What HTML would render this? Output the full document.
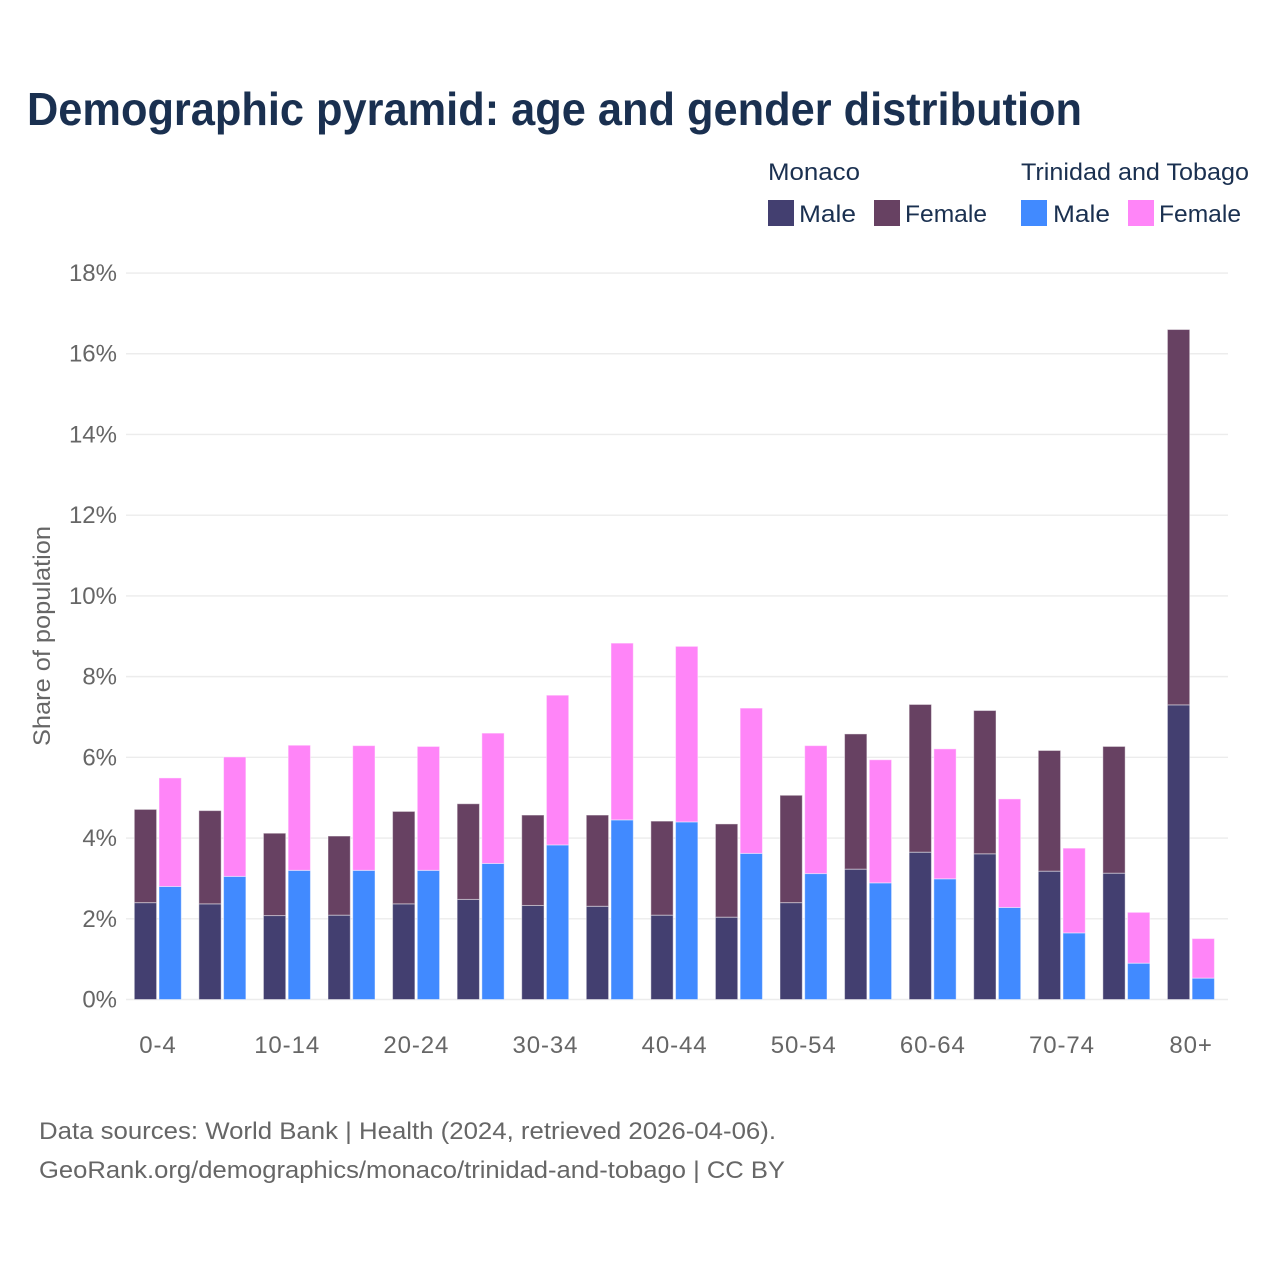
<!DOCTYPE html>
<html lang="en">
<head>
<meta charset="utf-8">
<title>Demographic pyramid: age and gender distribution</title>
<style>
html,body{margin:0;padding:0;background:#fff;}
svg{display:block;font-family:"Liberation Sans",sans-serif;}
.legend-text{font-size:24px;fill:#1a3050;}
.tick{font-size:24px;fill:#666;}
.xtick{letter-spacing:0.9px;}
.foot{font-size:24px;fill:#666;}
</style>
</head>
<body>
<svg id="chart" xmlns="http://www.w3.org/2000/svg" width="1280" height="1280" viewBox="0 0 1280 1280">
  <rect x="0" y="0" width="1280" height="1280" fill="#fff"/>
  <text x="27" y="125" font-size="46" font-weight="700" fill="#1a3050" textLength="1055" lengthAdjust="spacingAndGlyphs">Demographic pyramid: age and gender distribution</text>

  <g>
    <text class="legend-text" x="768" y="180" textLength="92" lengthAdjust="spacingAndGlyphs">Monaco</text>
    <text class="legend-text" x="1021" y="180" textLength="228" lengthAdjust="spacingAndGlyphs">Trinidad and Tobago</text>
    <rect x="768" y="200" width="26" height="26" fill="#433f70"/>
    <text class="legend-text" x="799" y="222" textLength="57" lengthAdjust="spacingAndGlyphs">Male</text>
    <rect x="874" y="200" width="26" height="26" fill="#674162"/>
    <text class="legend-text" x="905" y="222" textLength="82" lengthAdjust="spacingAndGlyphs">Female</text>
    <rect x="1021" y="200" width="26" height="26" fill="#418aff"/>
    <text class="legend-text" x="1053" y="222" textLength="57" lengthAdjust="spacingAndGlyphs">Male</text>
    <rect x="1128" y="200" width="26" height="26" fill="#ff85f8"/>
    <text class="legend-text" x="1159" y="222" textLength="82" lengthAdjust="spacingAndGlyphs">Female</text>
  </g>

  <g id="grid"></g>
  <g id="bars"></g>
  <g id="yticks"></g>
  <g id="xticks"></g>

  <text class="tick" transform="translate(50,746) rotate(-90)" x="0" y="0" textLength="220" lengthAdjust="spacingAndGlyphs">Share of population</text>

  <text class="foot" x="39" y="1139" textLength="737" lengthAdjust="spacingAndGlyphs">Data sources: World Bank | Health (2024, retrieved 2026-04-06).</text>
  <text class="foot" x="39" y="1178" textLength="746" lengthAdjust="spacingAndGlyphs">GeoRank.org/demographics/monaco/trinidad-and-tobago | CC BY</text>
</svg>
<script>
const categories = ["0-4","5-9","10-14","15-19","20-24","25-29","30-34","35-39","40-44","45-49","50-54","55-59","60-64","65-69","70-74","75-79","80+"];
const monacoMale = [2.40,2.37,2.08,2.09,2.37,2.48,2.33,2.31,2.09,2.04,2.40,3.23,3.65,3.61,3.18,3.13,7.30];
const monacoFemale = [2.31,2.31,2.04,1.96,2.29,2.37,2.24,2.26,2.33,2.31,2.66,3.35,3.66,3.55,2.99,3.14,9.30];
const ttMale = [2.80,3.05,3.20,3.20,3.20,3.37,3.83,4.45,4.40,3.62,3.12,2.89,2.99,2.28,1.65,0.90,0.53];
const ttFemale = [2.69,2.96,3.10,3.09,3.07,3.23,3.71,4.38,4.35,3.60,3.17,3.05,3.22,2.69,2.10,1.26,0.98];
const yTickValues = [0,2,4,6,8,10,12,14,16,18];
const xTickLabels = ["0-4","10-14","20-24","30-34","40-44","50-54","60-64","70-74","80+"];

const NS = "http://www.w3.org/2000/svg";
function yScale(v){ return 999.5 - v * 40.36; }
function groupX(i){ return 125.9 + i * 64.57; }
function groupCenter(label){ return groupX(categories.indexOf(label)) + 32.1; }

const grid = document.getElementById("grid");
const yticks = document.getElementById("yticks");
yTickValues.forEach(function(v){
  const line = document.createElementNS(NS,"line");
  
  
  line.setAttribute("x1",126);
  line.setAttribute("x2",1228);
  line.setAttribute("y1",yScale(v));
  line.setAttribute("y2",yScale(v));
  line.setAttribute("stroke","#ececec");
  line.setAttribute("stroke-width","1.4");
  grid.appendChild(line);
  const t = document.createElementNS(NS,"text");
  
  
  t.setAttribute("class","tick");
  t.setAttribute("x",117);
  t.setAttribute("y",yScale(v)+8);
  t.setAttribute("text-anchor","end");
  t.textContent = v + "%";
  yticks.appendChild(t);
});

const xticks = document.getElementById("xticks");
xTickLabels.forEach(function(label){
  const t = document.createElementNS(NS,"text");
  
  
  t.setAttribute("class","tick xtick");
  t.setAttribute("x",groupCenter(label));
  t.setAttribute("y",1053);
  t.setAttribute("text-anchor","middle");
  t.textContent = label;
  xticks.appendChild(t);
});

const bars = document.getElementById("bars");
function addBar(x, v0, v1, fill){
  const r = document.createElementNS(NS,"rect");
  
  
  r.setAttribute("x",x);
  r.setAttribute("y",yScale(v1));
  r.setAttribute("width",22.3);
  r.setAttribute("height",yScale(v0)-yScale(v1));
  r.setAttribute("fill",fill);
  r.setAttribute("stroke","#fff");
  r.setAttribute("stroke-opacity","0.45");
  r.setAttribute("stroke-width","1");
  bars.appendChild(r);
}
categories.forEach(function(c,i){
  const x = groupX(i);
  addBar(x+8.4, 0, monacoMale[i], "#433f70");
  addBar(x+8.4, monacoMale[i], monacoMale[i]+monacoFemale[i], "#674162");
  addBar(x+33.1, 0, ttMale[i], "#418aff");
  addBar(x+33.1, ttMale[i], ttMale[i]+ttFemale[i], "#ff85f8");
});
</script>
</body>
</html>
